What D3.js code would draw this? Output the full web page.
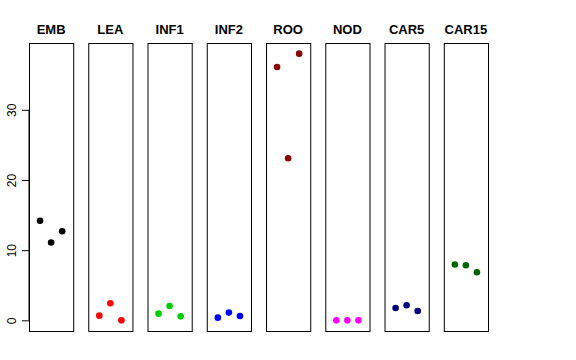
<!DOCTYPE html>
<html>
<head>
<meta charset="utf-8">
<script src="https://cdn.jsdelivr.net/npm/d3@7"></script>
<style>
  body { margin: 0; background: #fff; }
  svg { display: block; font-family: "Liberation Sans", Arial, sans-serif; }
</style>
</head>
<body>
<svg id="chart" width="576" height="360"></svg>
<script>
const tissues = ["EMB", "LEA", "INF1", "INF2", "ROO", "NOD", "CAR5", "CAR15"];
const colors = ["#000000", "#ff0000", "#00cd00", "#0000ff", "#8b0000", "#ff00ff", "#000080", "#006400"];
const replicates = [
  [14.2, 11.1, 12.7],
  [0.67, 2.43, 0.0],
  [0.95, 2.05, 0.57],
  [0.38, 1.1, 0.62],
  [36.1, 23.1, 38.0],
  [0.0, 0.0, 0.0],
  [1.76, 2.14, 1.33],
  [7.95, 7.86, 6.86]
];
const yTicks = [0, 10, 20, 30];

const svg = d3.select("#chart");
const plotTop = 43, plotBottom = 331;

const x = d3.scaleBand().domain(tissues).range([29, 488]).paddingInner(0.254).paddingOuter(0);
const xInner = d3.scalePoint().domain([0, 1, 2]).range([0, x.bandwidth()]).padding(1);

const allVals = replicates.flat();
const yMin = d3.min(allVals), yMax = d3.max(allVals);
const ext = (yMax - yMin) * 0.04;
const y = d3.scaleLinear().domain([yMin - ext, yMax + ext]).range([plotBottom, plotTop]);

// y axis
const yAxis = svg.append("g").attr("transform", "translate(29,0)")
  .call(d3.axisLeft(y).tickValues(yTicks).tickSize(7).tickPadding(0).tickFormat(d3.format("d")));
yAxis.select(".domain").attr("d", `M0,${y(yTicks[0])}V${y(yTicks[yTicks.length - 1])}`).attr("stroke", "#000");
yAxis.selectAll(".tick line").attr("stroke", "#000");
yAxis.selectAll(".tick text")
  .attr("font-size", 12)
  .attr("fill", "#000")
  .attr("transform", "rotate(-90)")
  .attr("x", 0)
  .attr("y", -13)
  .attr("text-anchor", "middle")
  .attr("dy", 0);

const panels = svg.selectAll("g.panel")
  .data(tissues)
  .join("g")
  .attr("class", "panel")
  .attr("transform", (d) => `translate(${x(d)},0)`);

panels.append("rect")
  .attr("x", 0.5)
  .attr("y", plotTop + 0.5)
  .attr("width", x.bandwidth())
  .attr("height", plotBottom - plotTop)
  .attr("fill", "none")
  .attr("stroke", "#000")
  .attr("stroke-width", 1);

panels.append("text")
  .attr("x", x.bandwidth() / 2)
  .attr("y", 34)
  .attr("text-anchor", "middle")
  .attr("font-size", 13)
  .attr("font-weight", "bold")
  .text((d) => d);

panels.each(function (d, i) {
  d3.select(this).selectAll("circle")
    .data(replicates[i])
    .join("circle")
    .attr("cx", (v, j) => xInner(j))
    .attr("cy", (v) => y(v))
    .attr("r", 3.3)
    .attr("fill", colors[i]);
});
</script>
</body>
</html>
